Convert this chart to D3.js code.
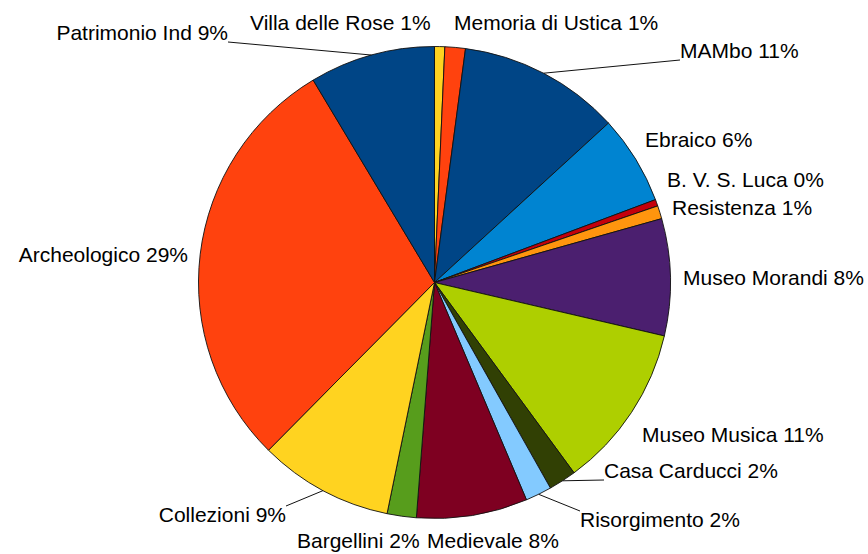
<!DOCTYPE html>
<html lang="en">
<head>
    <meta charset="UTF-8">
    <title>Musei</title>
    <script src="https://cdn.jsdelivr.net/npm/d3@7"></script>
    <style>
        body { margin: 0; background: #fff; }
        text { font-family: "Liberation Sans", Arial, sans-serif; font-size: 21px; fill: #000; }
    </style>
</head>
<body>
    <script>

		// slices, clockwise from 12 o'clock
		var names = ["Villa delle Rose", "Memoria di Ustica", "MAMbo", "Ebraico", "B. V. S. Luca",
		             "Resistenza", "Museo Morandi", "Museo Musica", "Casa Carducci", "Risorgimento",
		             "Medievale", "Bargellini", "Collezioni", "Archeologico", "Patrimonio Ind"];
		var values = [0.7, 1.4, 11.1, 6.1, 0.45, 0.9, 8.0, 11.3, 1.9, 1.8, 7.6, 2.0, 9.2, 29.0, 8.6];
		var colors = ["#ffd320", "#ff420e", "#004586", "#0084d1", "#c5000b",
		              "#ff950e", "#4b1f6f", "#aecf00", "#314004", "#83caff",
		              "#7e0021", "#579d1c", "#ffd320", "#ff420e", "#004586"];

		// label placement (x, baseline y, anchor) - layout only
		var labelX = [250, 454, 680, 645, 667, 672, 683, 642, 604, 580, 427, 297, 286, 188, 228];
		var labelY = [30, 30, 58, 147, 187, 215, 285, 442, 478, 527, 548, 548, 522, 262, 40];
		var labelAnchor = ["start", "start", "start", "start", "start", "start", "start", "start",
		                   "start", "start", "start", "start", "end", "end", "end"];

		var width = 868, height = 554;
		var cx = 434.5, cy = 282.5, radius = 236;

		var total = d3.sum(values);
		var rows = names.map(function(n, i) { return {name: n, value: values[i], color: colors[i], i: i}; });

		var pie = d3.pie().sort(null).value(function(d) { return d.value; });
		var arc = d3.arc().innerRadius(0).outerRadius(radius);

		var svg = d3.select("body")
					.append("svg")
					.attr("width", width)
					.attr("height", height);

		var g = svg.append("g").attr("transform", "translate(" + cx + "," + cy + ")");

		var arcs = pie(rows);

		g.selectAll("path.slice").data(arcs).enter()
			.append("path")
			.attr("class", "slice")
			.attr("d", arc)
			.attr("fill", function(d) { return d.data.color; })
			.attr("stroke", "#111")
			.attr("stroke-width", 0.9)
			.attr("stroke-linejoin", "round");

		var labels = svg.selectAll("text.lbl").data(arcs).enter()
			.append("text")
			.attr("class", "lbl")
			.attr("x", function(d) { return labelX[d.data.i]; })
			.attr("y", function(d) { return labelY[d.data.i]; })
			.attr("text-anchor", function(d) { return labelAnchor[d.data.i]; })
			.text(function(d) { return d.data.name + " " + Math.round(d.data.value / total * 100) + "%"; });

		// leader lines for labels that sit away from their slice
		labels.each(function(d) {
			var bb = this.getBBox();
			var mid = (d.startAngle + d.endAngle) / 2;
			var px = cx + radius * Math.sin(mid), py = cy - radius * Math.cos(mid);
			var qx = Math.max(bb.x, Math.min(bb.x + bb.width, px));
			var qy = Math.max(bb.y + 3, Math.min(bb.y + bb.height - 2, py));
			if (Math.hypot(qx - px, qy - py) > 30) {
				svg.append("line")
					.attr("x1", px).attr("y1", py)
					.attr("x2", qx).attr("y2", qy)
					.attr("stroke", "#111")
					.attr("stroke-width", 1);
			}
		});

    </script>
</body>
</html>
